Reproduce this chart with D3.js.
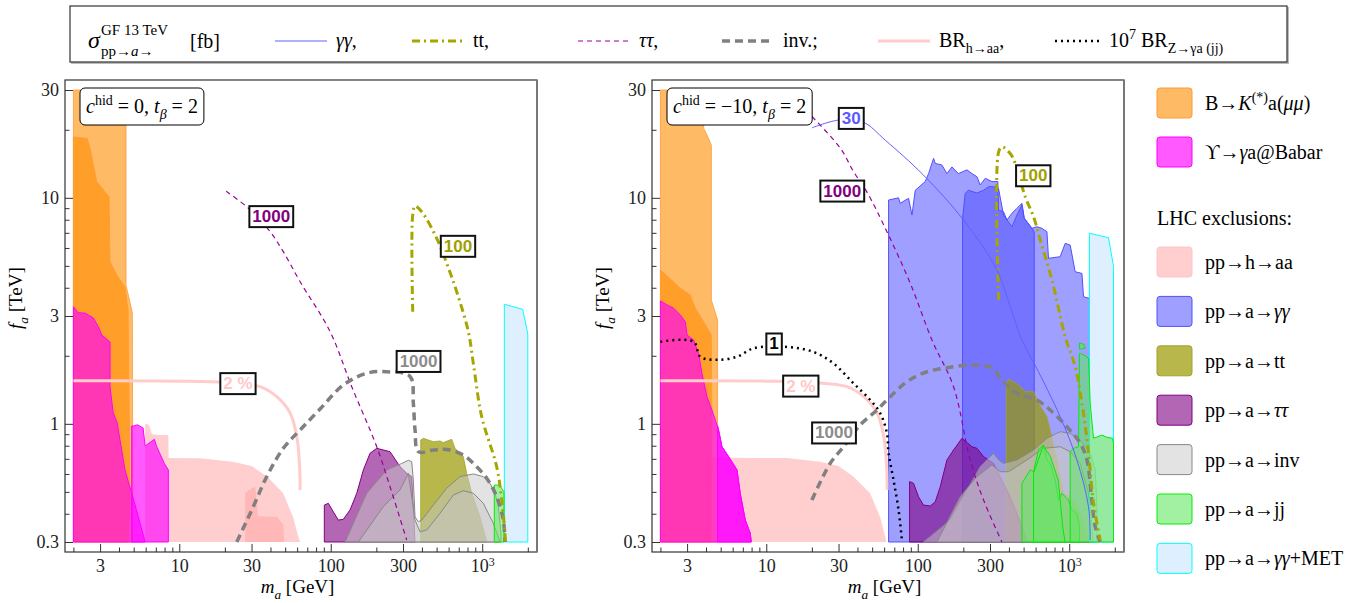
<!DOCTYPE html>
<html>
<head>
<meta charset="utf-8">
<script src="https://cdn.jsdelivr.net/npm/d3@7"></script>
<style>
  body { margin: 0; background: #fff; }
  svg { display: block; }
</style>
</head>
<body>
<script>
// Axes: m_a in GeV (x), f_a in TeV (y), both log
const xTicks = [3, 10, 30, 100, 300, 1000];
const xMinor = [2, 4, 5, 6, 7, 8, 9, 20, 40, 50, 60, 70, 80, 90, 200, 400, 500, 600, 700, 800, 900, 2000];
const yTicks = [0.3, 1, 3, 10, 30];
const yMinor = [0.4, 0.5, 0.6, 0.7, 0.8, 0.9, 2, 4, 5, 6, 7, 8, 9, 20];

// ---- left panel (c_hid = 0) : exclusion regions [m_a, f_a] ----
const bkOuterL = [[2,0.3],[2,30],[4.45,30],[4.45,4.1],[4.7,3.5],[4.9,3.1],[4.93,0.5],[4.9,0.3]];
const bkInnerL = [[2,0.3],[2,18.6],[2.47,18.3],[2.61,16],[2.85,11.8],[3.44,10.1],[3.49,5.22],[3.87,4.55],[4.38,4.03],[4.59,3.19],[4.66,1.27],[4.73,0.49],[4.6,0.3]];
const upsAL = [[2,0.3],[2,3.3],[2.15,3.1],[2.39,3.09],[2.71,2.94],[2.92,2.69],[3.08,2.47],[3.32,2.37],[3.49,2.3],[3.49,1.46],[3.66,1.12],[3.89,1.01],[4.38,0.625],[5.11,0.437],[5.95,0.3]];
const upsBL = [[4.85,0.3],[4.85,0.978],[4.96,0.978],[5.3,0.99],[5.77,0.958],[5.95,0.798],[6.85,0.854],[7.1,0.792],[7.97,0.668],[8.47,0.625],[8.47,0.3]];
const haaL = [[5.95,0.3],[5.95,1],[6.3,0.99],[6.6,0.9],[7.3,0.892],[8.47,0.892],[8.5,0.706],[13.7,0.705],[22.6,0.68],[30,0.65],[38,0.585],[48.4,0.494],[56.4,0.387],[60.8,0.32],[62.8,0.3]];
const haa2L = [[27.2,0.3],[27.2,0.494],[31.6,0.53],[32.5,0.46],[33,0.39],[44,0.388],[48.6,0.36],[49.2,0.3]];
const tauL = [[90.7,0.3],[90.7,0.437],[96.4,0.445],[104,0.408],[112.2,0.375],[121.1,0.378],[134.1,0.416],[148.5,0.493],[164.2,0.625],[181.7,0.741],[201.2,0.779],[246.3,0.753],[286.8,0.646],[317.4,0.604],[342.5,0.584],[360,0.3]];
const invAL = [[124.3,0.3],[172.8,0.493],[234.2,0.625],[294.3,0.668],[325.3,0.69],[342.5,0.68],[351,0.564],[360.2,0.388],[378.7,0.369],[398.8,0.375],[475.6,0.437],[583,0.519],[713.9,0.584],[873.7,0.6],[1017,0.584],[1126,0.546],[1215,0.493],[1277,0.43],[1331,0.328],[1331,0.3]];
const invBL = [[152.1,0.3],[222.4,0.43],[286.8,0.51],[325.3,0.604],[360.2,0.375],[388.5,0.333],[430.2,0.339],[526.6,0.402],[644.5,0.484],[750,0.506],[873.7,0.493],[1017,0.445],[1184,0.363],[1311,0.3]];
const ttL = [[392.6,0.3],[392.6,0.848],[408.5,0.863],[475.6,0.834],[526.6,0.84],[553.6,0.826],[629,0.854],[661.6,0.779],[750,0.716],[790,0.604],[852,0.493],[967,0.388],[1071,0.3]];
const jjL = [[1202,0.3],[1202,0.536],[1300,0.536],[1340,0.52],[1393,0.5],[1393,0.3]];
const metL = [[1400,0.3],[1400,3.38],[1850,3.21],[2000,2.5],[2000,0.3]];

// left panel: cross-section contours
const brCurve = [[2,1.55],[10,1.545],[20,1.525],[34.1,1.46],[44,1.318],[53.9,1.117],[59.7,0.877],[62.3,0.65],[62.8,0.51]];
const tauCurveL = [[20.4,10.7],[28.6,8.99],[39.8,7.08],[48.6,5.78],[62.8,4.25],[99,2.56],[137.6,1.46],[201.2,0.792],[246.3,0.527],[317.4,0.306]];
const invCurveL = [[23.97,0.3],[30.8,0.43],[37.8,0.584],[48.6,0.779],[62.8,0.94],[85,1.163],[121.1,1.485],[172.8,1.674],[234.2,1.7],[333.8,1.62],[351,1.23],[360.2,0.94],[378.7,0.753],[475.6,0.766],[583,0.77],[750,0.728],[896.5,0.657],[1071,0.574],[1246,0.476],[1378,0.375],[1414,0.3]];
const ttCurveL = [[347.7,3.13],[347.7,8.39],[360.2,9.2],[398.8,8.68],[500.9,6.62],[583,5.13],[678.8,3.84],[809.6,2.56],[873.7,1.85],[992.5,1.075],[1246,0.646],[1345,0.46],[1414,0.329],[1420,0.3]];
const labelsL = [
  { m: 40.5, f: 8.31, text: '1000', kind: 'tau' },
  { m: 692, f: 6.14, text: '100', kind: 'tt' },
  { m: 380, f: 1.9, text: '1000', kind: 'inv' },
  { m: 24.4, f: 1.516, text: '2 %', kind: 'br' }
];

// ---- right panel (c_hid = -10) ----
const bkOuterR = [[2,0.3],[2,30],[3.86,30],[3.86,20.3],[4.06,19],[4.34,17.1],[4.34,3.53],[4.77,2.88],[4.77,0.3]];
const bkInnerR = [[2,0.3],[2,4.79],[2.44,4.25],[2.71,3.98],[3.15,3.72],[3.4,3.25],[3.86,2.83],[4.34,2.47],[4.38,0.94],[4.3,0.3]];
const upsAR = [[2,0.3],[2,3.5],[2.21,3.36],[2.44,3.25],[2.71,3.03],[2.92,2.83],[3,2.47],[3.31,2.35],[3.57,2.05],[3.76,1.674],[4.06,1.318],[4.38,1.151],[4.84,0.94],[5.1,0.792],[5.64,0.716],[6.41,0.625],[6.73,0.493],[7.27,0.375],[7.84,0.328],[7.96,0.3]];
const upsBR = [[4.77,0.3],[4.77,0.98],[4.84,0.94],[5.1,0.792],[5.64,0.716],[6.41,0.625],[6.73,0.493],[7.27,0.375],[7.84,0.328],[7.96,0.3]];
const haaR = [[4,0.3],[4,0.708],[13.7,0.706],[22.6,0.68],[30,0.65],[37.5,0.585],[48.4,0.494],[56.4,0.387],[60.8,0.32],[62,0.3]];
const ggAR = [[64.2,0.3],[64.2,9.78],[74.7,10],[76.6,9.46],[87,9.95],[91.6,8.39],[96.3,10.8],[112,11.8],[117.9,12.8],[127.2,14.96],[130.5,14.2],[144.4,13.97],[155.8,12.8],[168.2,13.7],[185.9,12.8],[211.3,13.3],[228,12.8],[246,12.4],[258.5,11.4],[279,12.2],[309,11.8],[338,11.8],[341.5,8.83],[368.4,8.68],[388,7.98],[418.7,8.54],[451.7,8.99],[487.4,9.46],[504.7,8.12],[567.5,7.33],[612.2,7.45],[660.5,7.33],[712.6,7.08],[730.2,5.4],[872,5.49],[941,6.29],[1015,6.18],[1095,4.71],[1213,4.63],[1243,3.65],[1361,3.59],[1361,0.3]];
const ggBR = [[197.6,0.3],[197.6,8.12],[205.9,10.47],[216.4,10.8],[246,10.5],[271.9,10.8],[293.4,11.2],[316.5,11.2],[341.5,11],[368.4,8.39],[418.7,7.45],[451.7,8.39],[487.4,9.3],[504.7,8.12],[567.5,7.33],[587.5,7.08],[587.5,0.3]];
const ttR = [[383.9,0.3],[383.9,1.485],[397.5,1.574],[429,1.536],[462.8,1.485],[512.5,1.387],[581.4,1.387],[627.4,1.233],[712.6,1.075],[749.4,0.94],[788,0.792],[829.6,0.692],[872,0.584],[917,0.493],[1015,0.476],[1124,0.43],[1243,0.375],[1341,0.317],[1376,0.3]];
const tauR = [[88.3,0.3],[88.3,0.555],[93.8,0.546],[101.2,0.476],[109.2,0.437],[120.9,0.433],[130.5,0.452],[140.8,0.527],[155.8,0.692],[172.3,0.766],[195.7,0.863],[228,0.792],[246,0.779],[272,0.716],[316.5,0.668],[350.4,0.584],[397.5,0.493],[451.7,0.402],[487.4,0.351],[525.8,0.3]];
const invAR = [[109.2,0.3],[163.9,0.375],[211.3,0.51],[258.5,0.646],[316.5,0.741],[341.5,0.692],[368.4,0.668],[451.7,0.692],[581.4,0.766],[712.6,0.863],[872,0.923],[1015,0.908],[1182,0.848],[1376,0.741],[1485,0.625],[1523,0.43],[1523,0.3]];
const invBR = [[133.9,0.3],[190.8,0.476],[246,0.584],[309,0.657],[350.4,0.614],[397.5,0.614],[525.8,0.692],[676.8,0.779],[872,0.792],[1015,0.753],[1182,0.668],[1341,0.493],[1412,0.351],[1440,0.3]];
const jjAR = [[487.4,0.3],[487.4,0.546],[553,0.625],[581.4,0.614],[627.4,0.766],[676.8,0.806],[712.6,0.692],[749.4,0.668],[808.5,0.564],[850,0.46],[895,0.493],[941,0.476],[989,0.46],[1042,0.416],[1124,0.402],[1169.5,0.351],[1169.5,0.3]];
const jjBR = [[581.4,0.3],[581.4,0.604],[674,0.799],[749,0.72],[846,0.564],[911,0.339],[941,0.3]];
const jjCR = [[1015,0.3],[1015,0.753],[1068,0.779],[1151.6,0.792],[1169.5,2.05],[1243,2.02],[1341,1.95],[1376,1.233],[1447,0.863],[1643,0.892],[1774,0.872],[1931,0.863],[1961,0.82],[1961,0.3]];
const jjDR = [[1170,2.28],[1243,2.25],[1275,2.16],[1170,2.14]];
const metR = [[1360,0.3],[1360,6.97],[1817,6.66],[1960,5],[1960,0.3]];

const ggCurveR = [[20,20.4],[30.3,22.1],[43.7,21.6],[61,18],[109.2,12.6],[200.5,7.98],[333,4.8],[408,3.3],[487,2.35],[600,1.8],[872,1.075],[1124,0.692],[1341,0.43],[1376,0.306]];
const tauCurveR = [[20,22.9],[30.8,16.6],[37.7,13.05],[46.2,10.6],[62.6,7.08],[89.2,4.19],[124.1,2.35],[172.3,1.46],[222,0.692],[272,0.46],[359.6,0.3]];
const invCurveR = [[20,0.46],[26.45,0.669],[32.4,0.792],[41.7,0.988],[53.8,1.151],[65.8,1.318],[84.8,1.536],[115,1.7],[155.8,1.77],[233.5,1.82],[316.5,1.76],[350.4,1.59],[451.7,1.365],[612,1.274],[749.4,1.151],[966,0.971],[1182,0.82],[1309,0.692],[1412,0.454],[1484,0.351],[1602,0.3]];
const ttCurveR = [[342,3.53],[342,16],[359.6,16.8],[407.9,15.7],[440.1,14.2],[512.5,10.1],[581.4,8.25],[643.6,6.51],[768.8,4.33],[941,2.43],[1095,1.79],[1213,1.24],[1341,0.743],[1447,0.446],[1602,0.306]];
const zCurveR = [[2,2.31],[3.31,2.31],[3.67,1.98],[4.73,1.92],[6.41,1.98],[8.25,2.16],[13.7,2.19],[20.5,2.08],[27.8,1.85],[37.7,1.51],[48.6,1.274],[56.6,1.113],[62.6,0.908],[64.2,0.741],[69.2,0.564],[74.7,0.416],[78.6,0.306]];
const labelsR = [
  { m: 36.4, f: 22.6, text: '30', kind: 'gg' },
  { m: 31.75, f: 10.78, text: '1000', kind: 'tau' },
  { m: 579, f: 12.6, text: '100', kind: 'tt' },
  { m: 28, f: 0.917, text: '1000', kind: 'inv' },
  { m: 16.9, f: 1.478, text: '2 %', kind: 'br' },
  { m: 11.26, f: 2.27, text: '1', kind: 'z' }
];

// legend entries
const legendRegions = [
  { key: 'bk',  label: [['B→'], ['K', 'i'], ['(*)', '^'], ['a('], ['μμ', 'i'], [')']] },
  { key: 'ups', label: [['ϒ→'], ['γ', 'i'], ['a@Babar']] },
  null,
  { key: 'haa', label: [['pp→h→aa']] },
  { key: 'gg',  label: [['pp→a→'], ['γγ', 'i']] },
  { key: 'tt',  label: [['pp→a→tt']] },
  { key: 'tau', label: [['pp→a→'], ['ττ', 'i']] },
  { key: 'inv', label: [['pp→a→inv']] },
  { key: 'jj',  label: [['pp→a→jj']] },
  { key: 'met', label: [['pp→a→'], ['γγ', 'i'], ['+MET']] }
];

// ---- styles ----
const SERIF = '"Liberation Serif", "Times New Roman", serif';
const SANS = '"Liberation Sans", Arial, sans-serif';
const regionStyle = {
  bk:  { fill: '#ff8c00', op: 0.6,  stroke: '#ff9a33', sw: 0.8 },
  ups: { fill: '#ff00ff', op: 0.65, stroke: '#ff00ff', sw: 1 },
  haa: { fill: '#ffa0a0', op: 0.5,  stroke: 'none',    sw: 0 },
  gg:  { fill: '#5050ff', op: 0.55, stroke: '#5050ff', sw: 1 },
  tt:  { fill: '#999900', op: 0.7,  stroke: '#a3a32a', sw: 0.8 },
  tau: { fill: '#800080', op: 0.6,  stroke: '#800080', sw: 1 },
  inv: { fill: '#c8c8c8', op: 0.5,  stroke: '#888888', sw: 1 },
  met: { fill: '#c8e6ff', op: 0.6,  stroke: '#00ffff', sw: 1 },
  jj:  { fill: '#64e664', op: 0.6,  stroke: '#00ee00', sw: 1 }
};
const lineStyle = {
  br:  { stroke: '#ffcccc', w: 3,   dash: null },
  tau: { stroke: '#990099', w: 1.2, dash: '5,4' },
  inv: { stroke: '#808080', w: 3.5, dash: '8,5' },
  tt:  { stroke: '#a6a600', w: 3,   dash: '8,4,2,4' },
  gg:  { stroke: '#6060ff', w: 1,   dash: null },
  z:   { stroke: '#000000', w: 2.5, dash: '2,4' }
};
const labelColor = { tau: '#800080', tt: '#a0a000', inv: '#8c8c8c', gg: '#5a5aff', br: '#ffc8c8', z: '#000' };

const width = 1360, height = 603;
const frameTop = 80, frameBottom = 552;

const svg = d3.select('body').append('svg')
  .attr('width', width).attr('height', height);

// rich text: parts = [[str, flags]] flags: i italic, ^ sup, _ sub
function rich(parent, x, y, parts, size, anchor) {
  const t = parent.append('text')
    .attr('x', x).attr('y', y)
    .attr('font-family', SERIF).attr('font-size', size)
    .attr('text-anchor', anchor || 'start');
  let cur = 0;
  parts.forEach(([str, fl = '']) => {
    const off = fl.includes('^') ? -0.42 * size : fl.includes('_') ? 0.3 * size : 0;
    t.append('tspan')
      .attr('dy', off - cur)
      .attr('font-style', fl.includes('i') ? 'italic' : null)
      .attr('font-size', off ? size * 0.7 : null)
      .text(str);
    cur = off;
  });
  return t;
}

const y = d3.scaleLog().domain([0.3, 30]).range([542, 90]);

const panels = [
  {
    x0: 65, x1: 537,
    regions: [['haa', haaL], ['haa', haa2L], ['bk', bkOuterL], ['bk', bkInnerL], ['ups', upsAL], ['ups', upsBL],
              ['tt', ttL], ['tau', tauL], ['inv', invAL], ['inv', invBL], ['met', metL], ['jj', jjL]],
    curves: [['br', brCurve], ['tau', tauCurveL], ['inv', invCurveL], ['tt', ttCurveL]],
    labels: labelsL,
    note: [['c', 'i'], ['hid', '^'], [' = 0, '], ['t', 'i'], ['β', 'i_'], [' = 2']]
  },
  {
    x0: 652, x1: 1124,
    regions: [['haa', haaR], ['bk', bkOuterR], ['bk', bkInnerR], ['ups', upsAR], ['ups', upsBR],
              ['gg', ggAR], ['gg', ggBR], ['tt', ttR], ['tau', tauR], ['inv', invAR], ['inv', invBR],
              ['met', metR], ['jj', jjAR], ['jj', jjBR], ['jj', jjCR], ['jj', jjDR]],
    curves: [['br', brCurve], ['tau', tauCurveR], ['inv', invCurveR], ['tt', ttCurveR], ['gg', ggCurveR], ['z', zCurveR]],
    labels: labelsR,
    note: [['c', 'i'], ['hid', '^'], [' = −10, '], ['t', 'i'], ['β', 'i_'], [' = 2']]
  }
];

panels.forEach((p, i) => {
  const x = d3.scaleLog().domain([1.76, 2300]).range([p.x0, p.x1]);
  const g = svg.append('g');
  const clipId = 'clip' + i;
  svg.append('clipPath').attr('id', clipId)
    .append('rect').attr('x', p.x0).attr('y', frameTop).attr('width', p.x1 - p.x0).attr('height', frameBottom - frameTop);

  const area = d3.line().x(d => x(d[0])).y(d => y(d[1]));
  const curve = d3.line().x(d => x(d[0])).y(d => y(d[1])).curve(d3.curveCatmullRom.alpha(0.5));

  const plot = g.append('g').attr('clip-path', `url(#${clipId})`);

  plot.selectAll('path.region')
    .data(p.regions)
    .enter().append('path')
    .attr('class', 'region')
    .attr('d', d => area(d[1]) + 'Z')
    .attr('fill', d => regionStyle[d[0]].fill)
    .attr('fill-opacity', d => regionStyle[d[0]].op)
    .attr('stroke', d => regionStyle[d[0]].stroke)
    .attr('stroke-width', d => regionStyle[d[0]].sw)
    .attr('stroke-linejoin', 'round');

  plot.selectAll('path.curve')
    .data(p.curves)
    .enter().append('path')
    .attr('class', 'curve')
    .attr('d', d => curve(d[1]))
    .attr('fill', 'none')
    .attr('stroke', d => lineStyle[d[0]].stroke)
    .attr('stroke-width', d => lineStyle[d[0]].w)
    .attr('stroke-dasharray', d => lineStyle[d[0]].dash);

  // contour labels
  p.labels.forEach(l => {
    const lg = plot.append('g');
    const t = lg.append('text')
      .attr('x', x(l.m)).attr('y', y(l.f)).attr('dy', '0.36em')
      .attr('text-anchor', 'middle')
      .attr('font-family', SANS).attr('font-weight', 'bold').attr('font-size', 17)
      .attr('fill', labelColor[l.kind])
      .text(l.text);
    const b = t.node().getBBox();
    lg.insert('rect', 'text')
      .attr('x', b.x - 3).attr('y', b.y - 1).attr('width', b.width + 6).attr('height', b.height + 2)
      .attr('fill', '#fff').attr('stroke', '#111').attr('stroke-width', 2);
  });

  // panel note
  const ng = g.append('g');
  const nt = rich(ng, p.x0 + 21, 113, p.note, 20);
  const nb = nt.node().getBBox();
  ng.insert('rect', 'text')
    .attr('x', nb.x - 6).attr('y', 88).attr('width', nb.width + 12).attr('height', 37)
    .attr('rx', 5).attr('fill', '#fff').attr('stroke', '#000').attr('stroke-width', 1);

  // frame
  g.append('rect').attr('x', p.x0).attr('y', frameTop).attr('width', p.x1 - p.x0).attr('height', frameBottom - frameTop)
    .attr('fill', 'none').attr('stroke', '#333').attr('stroke-width', 1.2);
  g.append('line').attr('x1', p.x1).attr('x2', p.x1).attr('y1', frameTop).attr('y2', frameBottom)
    .attr('stroke', '#777').attr('stroke-width', 1.8);

  // axes
  const bottomAx = g.append('g').attr('transform', `translate(0,${frameBottom})`)
    .call(d3.axisBottom(x).tickValues(xTicks).tickSize(-8).tickPadding(7)
      .tickFormat(d => d === 1000 ? '10' : d3.format('')(d)))
    .call(a => a.select('.domain').remove());
  bottomAx.selectAll('text').filter(d => d === 1000)
    .append('tspan').attr('dy', '-0.45em').attr('font-size', 12).text('3');
  g.append('g').attr('transform', `translate(0,${frameBottom})`)
    .call(d3.axisBottom(x).tickValues(xMinor).tickSize(-4.5).tickFormat(''))
    .call(a => a.select('.domain').remove());

  g.append('g').attr('transform', `translate(${p.x0},0)`)
    .call(d3.axisLeft(y).tickValues(yTicks).tickSize(-8).tickPadding(6)
      .tickFormat(d => d < 1 ? d3.format('.1f')(d) : d3.format('')(d)))
    .call(a => a.select('.domain').remove());
  g.append('g').attr('transform', `translate(${p.x0},0)`)
    .call(d3.axisLeft(y).tickValues(yMinor).tickSize(-4.5).tickFormat(''))
    .call(a => a.select('.domain').remove());

  g.selectAll('.tick text').attr('font-family', SERIF).attr('font-size', 18).attr('fill', '#222');
  g.selectAll('.tick line').attr('stroke', '#333');

  // axis titles
  rich(g, x(30) + 46, 593, [['m', 'i'], ['a', 'i_'], [' [GeV]']], 19, 'middle');
  const yl = g.append('g').attr('transform', `translate(${p.x0 - 43},${y(3.6)}) rotate(-90)`);
  rich(yl, 0, 0, [['f', 'i'], ['a', 'i_'], [' [TeV]']], 19, 'middle');
});

// ---- top legend ----
const tl = svg.append('g');
tl.append('rect').attr('x', 71).attr('y', 7).attr('width', 1218).attr('height', 57)
  .attr('fill', '#bbb');
tl.append('rect').attr('x', 70).attr('y', 6).attr('width', 1217).attr('height', 56)
  .attr('fill', '#fff').attr('stroke', '#333').attr('stroke-width', 1.2);
tl.append('text').attr('x', 88).attr('y', 48).attr('font-family', SERIF).attr('font-size', 24)
  .attr('font-style', 'italic').text('σ');
tl.append('text').attr('x', 101).attr('y', 35).attr('font-family', SERIF).attr('font-size', 15).text('GF 13 TeV');
rich(tl, 101, 56, [['pp→'], ['a', 'i'], ['→']], 15);
tl.append('text').attr('x', 190).attr('y', 48).attr('font-family', SERIF).attr('font-size', 20).text('[fb]');

const topItems = [
  { key: 'gg',  x: 275, label: [['γγ', 'i'], [',']] },
  { key: 'tt',  x: 412, label: [['tt,']] },
  { key: 'tau', x: 578, label: [['ττ', 'i'], [',']] },
  { key: 'inv', x: 722, label: [['inv.;']] },
  { key: 'br',  x: 878, label: [['BR'], ['h→aa', '_'], [',']] },
  { key: 'z',   x: 1055, label: [['10'], ['7', '^'], [' BR'], ['Z→γa (jj)', '_']] }
];
topItems.forEach(it => {
  const s = lineStyle[it.key];
  const len = it.key === 'z' ? 45 : 52;
  tl.append('line').attr('x1', it.x).attr('x2', it.x + len).attr('y1', 41).attr('y2', 41)
    .attr('stroke', s.stroke).attr('stroke-width', s.w).attr('stroke-dasharray', s.dash);
  rich(tl, it.x + len + 9, 47, it.label, 20);
});

// ---- right legend ----
const rl = svg.append('g');
let ly = 88;
legendRegions.forEach(e => {
  if (!e) {
    rich(rl, 1157, 225, [['LHC exclusions:']], 20);
    ly = 247;
    return;
  }
  const s = regionStyle[e.key];
  rl.append('rect').attr('x', 1157).attr('y', ly).attr('width', 35).attr('height', 30).attr('rx', 3)
    .attr('fill', s.fill).attr('fill-opacity', s.op)
    .attr('stroke', s.stroke === 'none' ? '#ffc4c4' : s.stroke).attr('stroke-width', 1);
  rich(rl, 1205, ly + 22, e.label, 20);
  ly += 49.4;
  if (e.key === 'bk') ly = 137;
});
</script>
</body>
</html>
